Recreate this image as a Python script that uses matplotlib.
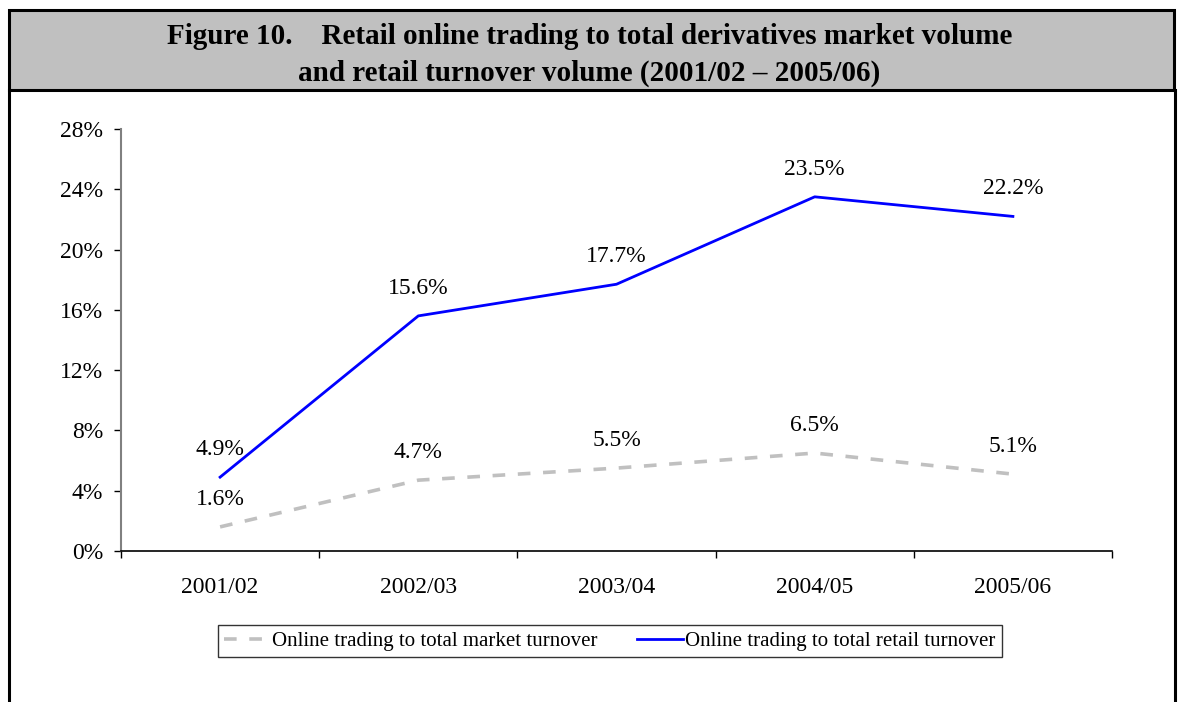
import matplotlib.pyplot as plt
from matplotlib.patches import Rectangle
from matplotlib.lines import Line2D
from matplotlib.ticker import FuncFormatter

periods = ['2001/02', '2002/03', '2003/04', '2004/05', '2005/06']
market_share = [1.6, 4.7, 5.5, 6.5, 5.1]
retail_share = [4.9, 15.6, 17.7, 23.5, 22.2]
y_ticks = [0, 4, 8, 12, 16, 20, 24, 28]

W, H = 1179, 702
plt.rcParams['font.family'] = ['Liberation Serif', 'DejaVu Serif']

fig = plt.figure(figsize=(W / 100, H / 100), dpi=100)


def fx(px):
    return px / W


def fy(py):
    return 1 - py / H


# header band and outer frame
fig.patches.append(Rectangle((fx(9), fy(90)), fx(1174 - 9), (90 - 10) / H,
                             transform=fig.transFigure, facecolor='#c0c0c0',
                             edgecolor='black', linewidth=2.2, zorder=0))
for x in (8.5, 1175):
    fig.lines.append(Line2D([fx(x), fx(x)], [fy(90), 0], transform=fig.transFigure,
                            color='black', linewidth=2.2))

fig.text(0.5, fy(36), 'Figure 10.    Retail online trading to total derivatives market volume',
         ha='center', va='center', fontsize=21, fontweight='bold')
fig.text(0.5, fy(73), 'and retail turnover volume (2001/02 \u2013 2005/06)',
         ha='center', va='center', fontsize=21, fontweight='bold')

ax = fig.add_axes([fx(121), fy(551), fx(1112 - 121), (551 - 129) / H])
xs = [i + 0.5 for i in range(len(periods))]

ax.plot(xs, market_share, color='#c0c0c0', linewidth=2.6, dashes=(3.5, 3.5),
        label='Online trading to total market turnover')
ax.plot(xs, retail_share, color='#0000ff', linewidth=2.0,
        label='Online trading to total retail turnover')

for x, v in zip(xs, market_share):
    ax.annotate(f'{v:.1f}%', (x, v), xytext=(0, 20), textcoords='offset points',
                ha='center', va='center', fontsize=17)
for x, v in zip(xs, retail_share):
    ax.annotate(f'{v:.1f}%', (x, v), xytext=(0, 20), textcoords='offset points',
                ha='center', va='center', fontsize=17)

ax.set_xlim(0, len(periods))
ax.set_ylim(0, 28)
ax.set_yticks(y_ticks)
ax.yaxis.set_major_formatter(FuncFormatter(lambda v, p: f'{v:.0f}%'))
ax.set_xticks(range(len(periods) + 1))
ax.set_xticklabels([])
ax.set_xticks(xs, minor=True)
ax.set_xticklabels(periods, minor=True)
ax.tick_params(axis='x', which='major', direction='out', length=5, width=1, color='black')
ax.tick_params(axis='x', which='minor', length=0, pad=19, labelsize=17)
ax.tick_params(axis='y', direction='out', length=5, width=1, color='black', pad=8, labelsize=17)

for side in ('top', 'right'):
    ax.spines[side].set_visible(False)
ax.spines['left'].set_color('#808080')
ax.spines['left'].set_linewidth(1.5)
ax.spines['bottom'].set_color('black')
ax.spines['bottom'].set_linewidth(1.2)

leg = fig.legend(loc='center', bbox_to_anchor=(fx(610), fy(641)), ncol=2, fontsize=15,
                 frameon=True, fancybox=False, handlelength=2.2, handletextpad=0.1,
                 columnspacing=1.9, borderpad=0.3, borderaxespad=0)
leg.get_frame().set_edgecolor('black')
leg.get_frame().set_linewidth(1.0)

fig.savefig('out.png', dpi=100)
